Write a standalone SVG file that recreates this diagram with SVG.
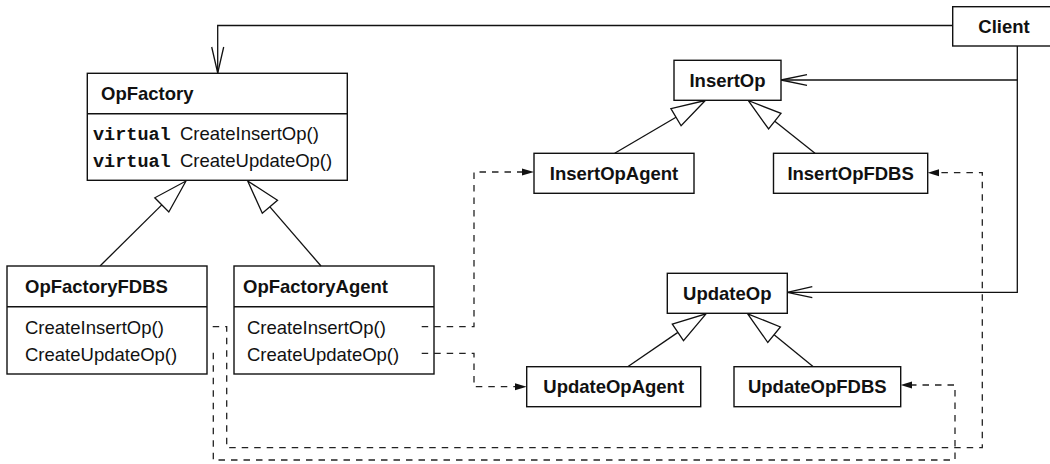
<svg xmlns="http://www.w3.org/2000/svg" width="1050" height="464" viewBox="0 0 1050 464">
<style>
.box{fill:#fff;stroke:#111;stroke-width:1.4}
.sep{stroke:#111;stroke-width:1.4}
.ln{fill:none;stroke:#111;stroke-width:1.3}
.dash{fill:none;stroke:#222;stroke-width:1.3;stroke-dasharray:6.5 6}
.tri{fill:#fff;stroke:#111;stroke-width:1.3;stroke-linejoin:miter}
.head{fill:#111}
.t{font-family:"Liberation Sans",Arial,sans-serif;font-size:18.5px;fill:#111}
.b{font-weight:bold}
.m{font-family:"Liberation Mono","Courier New",monospace;font-weight:bold;font-size:18.5px;fill:#111}
</style>
<rect width="1050" height="464" fill="#fff"/>
<g id="connectors">
<!-- Client to OpFactory -->
<polyline class="ln" points="952.7,25.5 217.7,25.5 217.7,73"/>
<polyline class="ln" points="211.7,47 217.7,73 223.7,47"/>
<!-- Client to InsertOp / UpdateOp -->
<polyline class="ln" points="1017.3,46 1017.3,292.3 787.3,292.3"/>
<line class="ln" x1="1017.3" y1="80" x2="781" y2="80"/>
<polyline class="ln" points="807,74.7 781,80 807,85.3"/>
<polyline class="ln" points="812.3,286.7 787.3,292.3 812.3,297.7"/>
<!-- generalizations -->
<line class="ln" x1="100" y1="266" x2="161.8" y2="204.9"/>
<polygon class="tri" points="186,181 168.8,212 154.8,197.8"/>
<line class="ln" x1="321" y1="266" x2="269.9" y2="206.8"/>
<polygon class="tri" points="247.7,181 277.5,200.3 262.3,213.3"/>
<line class="ln" x1="614.7" y1="153.3" x2="676" y2="117.2"/>
<polygon class="tri" points="705.3,100.5 681.1,125.8 670.9,108.6"/>
<line class="ln" x1="815" y1="153.3" x2="774.8" y2="121.2"/>
<polygon class="tri" points="748.2,100.5 781,113.4 768.6,129"/>
<line class="ln" x1="627.7" y1="366.7" x2="677.9" y2="332.4"/>
<polygon class="tri" points="706,313.8 683.5,340.7 672.3,324.1"/>
<line class="ln" x1="813.3" y1="366.7" x2="774.1" y2="334.8"/>
<polygon class="tri" points="747.7,313.8 780.4,327 767.8,342.5"/>
<!-- dashed dependencies -->
<polyline class="dash" points="187.7,326.7 226.7,326.7 226.7,447.7 982.3,447.7 982.3,172.7 939,172.7"/>
<polygon class="head" points="927.7,172.7 939,169.2 939,176.2"/>
<polyline class="dash" points="187.7,353.3 213.3,353.3 213.3,460 955,460 955,385 912,385"/>
<polygon class="head" points="900.7,385 912,381.5 912,388.5"/>
<polyline class="dash" points="421.7,326.7 474,326.7 474,172 522,172"/>
<polygon class="head" points="534,172 522,168.5 522,175.5"/>
<polyline class="dash" points="421.7,353.3 474,353.3 474,386.7 515,386.7"/>
<polygon class="head" points="526.7,386.7 515,383.2 515,390.2"/>
</g>
<g id="OpFactory">
<rect class="box" x="87.3" y="73.3" width="260" height="107"/>
<line class="sep" x1="87.3" y1="113.7" x2="347.3" y2="113.7"/>
<text class="t b" x="101" y="100">OpFactory</text>
<text class="m" x="93" y="139.5">virtual</text>
<text class="t" x="180" y="139.5">CreateInsertOp()</text>
<text class="m" x="93" y="166.5">virtual</text>
<text class="t" x="180" y="166.5">CreateUpdateOp()</text>
</g>
<g id="OpFactoryFDBS">
<rect class="box" x="7" y="266" width="200" height="108"/>
<line class="sep" x1="7" y1="306.7" x2="207" y2="306.7"/>
<text class="t b" x="25" y="293">OpFactoryFDBS</text>
<text class="t" x="25" y="334">CreateInsertOp()</text>
<text class="t" x="25" y="361">CreateUpdateOp()</text>
</g>
<g id="OpFactoryAgent">
<rect class="box" x="234" y="266" width="200" height="108" fill-opacity="0"/>
<line class="sep" x1="234" y1="306.7" x2="434" y2="306.7"/>
<text class="t b" x="243" y="293">OpFactoryAgent</text>
<text class="t" x="247" y="334">CreateInsertOp()</text>
<text class="t" x="247" y="361">CreateUpdateOp()</text>
</g>
<g id="Client">
<rect class="box" x="952.7" y="6.7" width="110" height="39.3"/>
<text class="t b" x="1004" y="33" text-anchor="middle">Client</text>
</g>
<g id="InsertOp">
<rect class="box" x="674" y="60.3" width="107" height="40"/>
<text class="t b" x="727.5" y="87" text-anchor="middle">InsertOp</text>
</g>
<g id="InsertOpAgent">
<rect class="box" x="534" y="153.3" width="160" height="40"/>
<text class="t b" x="614" y="180" text-anchor="middle">InsertOpAgent</text>
</g>
<g id="InsertOpFDBS">
<rect class="box" x="773.5" y="153.3" width="154.2" height="40"/>
<text class="t b" x="850.6" y="180" text-anchor="middle">InsertOpFDBS</text>
</g>
<g id="UpdateOp">
<rect class="box" x="667.3" y="273.3" width="120" height="40"/>
<text class="t b" x="727.3" y="300" text-anchor="middle">UpdateOp</text>
</g>
<g id="UpdateOpAgent">
<rect class="box" x="526.7" y="366.7" width="174" height="40"/>
<text class="t b" x="613.7" y="393.3" text-anchor="middle">UpdateOpAgent</text>
</g>
<g id="UpdateOpFDBS">
<rect class="box" x="734" y="366.7" width="166.7" height="40"/>
<text class="t b" x="817.3" y="393.3" text-anchor="middle">UpdateOpFDBS</text>
</g>
</svg>
